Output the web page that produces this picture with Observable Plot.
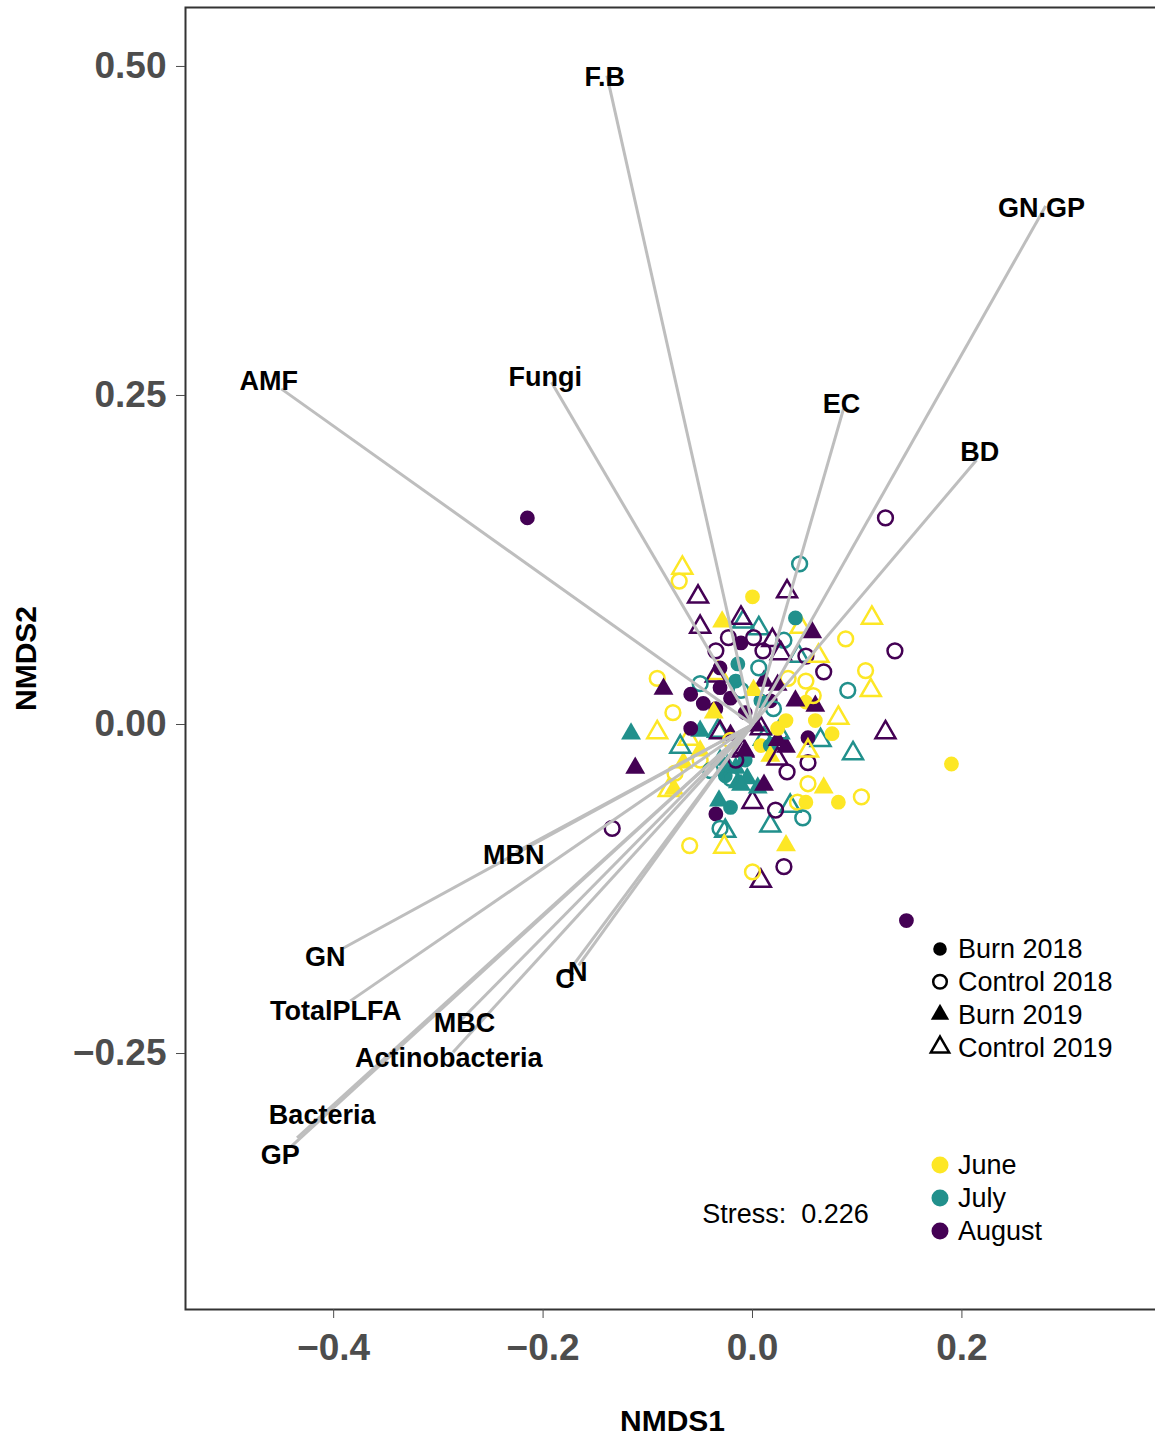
<!DOCTYPE html>
<html>
<head>
<meta charset="utf-8">
<script src="https://cdn.jsdelivr.net/npm/d3@7"></script>
<script src="https://cdn.jsdelivr.net/npm/@observablehq/plot@0.6"></script>
<style>
  html, body { margin: 0; padding: 0; background: #fff; overflow: hidden; }
  #wrap { position: relative; width: 1155px; height: 1437px; overflow: hidden; font-family: "Liberation Sans", Arial, sans-serif; }
  #chart svg { max-width: none !important; display: block; }
  #legend { position: absolute; left: 908px; top: 930px; width: 247px; height: 330px; background: #fff; }
</style>
</head>
<body>
<div id="wrap">
  <div id="chart"></div>
  <div id="legend"></div>
</div>
<script>
// Sampling months and their viridis colours
const months = ["June", "July", "August"];
const monthColors = ["#FDE725", "#21908C", "#440154"];

// Treatment groups (filled = burn, open = control; circle = 2018, triangle = 2019)
const treatments = ["Burn 2018", "Control 2018", "Burn 2019", "Control 2019"];
const treatmentSymbol = ["circle", "circle", "triangle", "triangle"];
const treatmentFilled = [true, false, true, false];

// NMDS site scores per treatment: [NMDS1, NMDS2, month]
const burn2018 = [
  [-0.215, 0.157, "August"], [-0.011, 0.062, "August"], [-0.031, 0.043, "August"], [-0.059, 0.023, "August"],
  [-0.047, 0.016, "August"], [-0.035, 0.012, "August"], [-0.031, 0.028, "August"], [-0.021, 0.020, "August"],
  [-0.059, -0.003, "August"], [-0.035, -0.068, "August"], [0.053, -0.010, "August"], [0.147, -0.149, "August"],
  [-0.007, 0.009, "August"], [0.017, 0.018, "August"],
  [0.000, 0.097, "June"], [0.060, 0.003, "June"], [0.076, -0.007, "June"], [0.051, 0.017, "June"],
  [0.082, -0.059, "June"], [0.051, -0.059, "June"], [0.190, -0.030, "June"], [0.024, -0.003, "June"],
  [0.008, -0.016, "June"], [0.032, 0.003, "June"],
  [0.041, 0.081, "July"], [-0.014, 0.046, "July"], [-0.016, 0.033, "July"], [-0.021, -0.063, "July"],
  [0.008, 0.018, "July"], [-0.007, -0.027, "July"], [-0.026, -0.039, "July"], [0.017, -0.016, "July"]
];
const control2018 = [
  [0.127, 0.157, "August"], [0.136, 0.056, "August"], [-0.134, -0.079, "August"], [0.030, -0.108, "August"],
  [-0.035, 0.056, "August"], [-0.023, 0.066, "August"], [0.010, 0.056, "August"], [0.051, 0.052, "August"],
  [0.068, 0.040, "August"], [0.053, -0.029, "August"], [0.033, -0.036, "August"], [0.022, -0.065, "August"],
  [0.001, 0.066, "August"], [-0.016, -0.027, "August"],
  [-0.070, 0.109, "June"], [-0.091, 0.035, "June"], [-0.076, 0.009, "June"], [-0.060, -0.092, "June"],
  [0.000, -0.112, "June"], [0.089, 0.065, "June"], [0.108, 0.041, "June"], [0.051, 0.033, "June"],
  [0.034, 0.035, "June"], [0.053, -0.045, "June"], [0.104, -0.055, "June"], [0.043, -0.059, "June"],
  [-0.074, -0.037, "June"], [-0.050, -0.027, "June"], [-0.021, -0.012, "June"], [0.058, 0.022, "June"],
  [0.045, 0.122, "July"], [0.091, 0.026, "July"], [0.020, 0.012, "July"], [0.006, 0.043, "July"],
  [-0.050, 0.031, "July"], [-0.031, -0.079, "July"], [0.048, -0.071, "July"], [0.030, 0.064, "July"],
  [-0.021, -0.041, "July"], [-0.040, -0.035, "July"], [-0.011, 0.026, "July"]
];
const burn2019 = [
  [-0.085, 0.027, "August"], [-0.112, -0.033, "August"], [0.057, 0.070, "August"], [0.041, 0.018, "August"],
  [0.060, 0.014, "August"], [0.011, 0.033, "August"], [0.024, 0.030, "August"], [-0.007, -0.020, "August"],
  [0.024, -0.012, "August"], [0.011, -0.046, "August"], [0.032, -0.017, "August"], [-0.021, -0.008, "August"],
  [0.003, -0.001, "August"],
  [-0.029, 0.078, "June"], [-0.037, 0.009, "June"], [0.032, -0.092, "June"], [0.068, -0.048, "June"],
  [0.017, -0.024, "June"], [0.001, 0.026, "June"], [-0.066, -0.029, "June"], [-0.075, -0.049, "June"],
  [-0.050, -0.020, "June"],
  [-0.116, -0.007, "July"], [-0.032, -0.058, "July"], [-0.014, -0.044, "July"], [-0.005, -0.041, "July"],
  [-0.050, -0.005, "July"], [-0.016, -0.033, "July"], [-0.011, -0.046, "July"], [0.005, -0.048, "July"],
  [-0.024, -0.031, "July"], [-0.031, -0.027, "July"]
];
const control2019 = [
  [-0.052, 0.097, "August"], [0.033, 0.101, "August"], [-0.050, 0.074, "August"], [-0.011, 0.081, "August"],
  [0.019, 0.064, "August"], [0.027, 0.054, "August"], [0.127, -0.006, "August"], [-0.031, -0.006, "August"],
  [0.008, -0.003, "August"], [0.024, -0.026, "August"], [-0.009, -0.020, "August"], [0.000, -0.059, "August"],
  [0.008, -0.119, "August"], [-0.035, 0.037, "August"],
  [-0.067, 0.119, "June"], [0.114, 0.081, "June"], [0.046, 0.074, "June"], [0.063, 0.052, "June"],
  [0.113, 0.026, "June"], [0.082, 0.005, "June"], [0.053, -0.020, "June"], [-0.033, 0.039, "June"],
  [-0.091, -0.006, "June"], [-0.027, -0.093, "June"], [-0.061, -0.011, "June"], [-0.080, -0.050, "June"],
  [-0.009, 0.078, "July"], [0.044, 0.052, "July"], [0.096, -0.022, "July"], [0.065, -0.012, "July"],
  [-0.069, -0.017, "July"], [-0.033, -0.005, "July"], [0.011, -0.011, "July"], [0.025, -0.006, "July"],
  [-0.026, -0.081, "July"], [0.017, -0.077, "July"], [0.036, -0.062, "July"], [0.006, 0.073, "July"]
];

// Fitted environmental / PLFA vectors (arrow tips) and their label positions
const vectorNames = ["F.B", "GN.GP", "AMF", "Fungi", "EC", "BD", "MBN", "GN", "TotalPLFA", "MBC",
                     "Actinobacteria", "Bacteria", "GP", "C", "N"];
const vectorX = [-0.139, 0.280, -0.450, -0.192, 0.087, 0.214, -0.226, -0.391, -0.384, -0.279,
                 -0.286, -0.435, -0.441, -0.176, -0.166];
const vectorY = [0.493, 0.394, 0.255, 0.260, 0.240, 0.201, -0.097, -0.170, -0.210, -0.225,
                 -0.249, -0.314, -0.321, -0.188, -0.183];
const labelX = [-0.141, 0.276, -0.462, -0.198, 0.085, 0.217, -0.228, -0.408, -0.398, -0.275,
                -0.290, -0.411, -0.451, -0.179, -0.167];
const labelY = [0.492, 0.392, 0.261, 0.264, 0.243, 0.207, -0.0995, -0.177, -0.218, -0.227,
                -0.254, -0.297, -0.327, -0.194, -0.188];

// Axis ticks and stress annotation
const xTicks = [-0.4, -0.2, 0.0, 0.2];
const yTicks = [-0.25, 0.00, 0.25, 0.50];
const stressValue = 0.226;

// ---- build tables ----
const groups = [burn2018, control2018, burn2019, control2019];
const samples = [];
groups.forEach((g, gi) => g.forEach(([x, y, m]) => samples.push({
  NMDS1: x, NMDS2: y, month: m, treatment: treatments[gi]
})));
// interleave the draw order so that no single month sits entirely on top
samples.sort((a, b) => ((a.NMDS1 * 1000 + a.NMDS2 * 7777) % 3) - ((b.NMDS1 * 1000 + b.NMDS2 * 7777) % 3));

const colorOf = m => monthColors[months.indexOf(m)];
const tIdx = t => treatments.indexOf(t);

const vectors = vectorNames.map((name, i) => ({
  name, x: vectorX[i], y: vectorY[i], lx: labelX[i], ly: labelY[i]
}));

const FONT = '"Liberation Sans", Arial, Helvetica, sans-serif';
const R = 7.4;

// the panel runs past the right edge of the page, so its right border is hidden
const chart = Plot.plot({
  width: 1162,
  height: 1437,
  marginLeft: 185,
  marginRight: 3,
  marginTop: 7,
  marginBottom: 128,
  style: { fontFamily: FONT, background: "#fff", overflow: "visible", maxWidth: "none" },
  x: { domain: [-0.5415, 0.3887] },
  y: { domain: [-0.4445, 0.5448] },
  marks: [
    Plot.dot(samples, {
      x: "NMDS1",
      y: "NMDS2",
      r: R,
      symbol: d => treatmentSymbol[tIdx(d.treatment)],
      fill: d => treatmentFilled[tIdx(d.treatment)] ? colorOf(d.month) : "none",
      stroke: d => treatmentFilled[tIdx(d.treatment)] ? "none" : colorOf(d.month),
      strokeWidth: 2.5
    }),
    Plot.link(vectors, {
      x1: () => 0, y1: () => 0, x2: "x", y2: "y",
      stroke: "#bebebe", strokeWidth: 3
    }),
    Plot.text(vectors, {
      x: "lx", y: "ly", text: "name",
      fontSize: 27, fontWeight: "bold", fill: "#000", textAnchor: "middle"
    }),
    Plot.text([`Stress:  ${stressValue}`], {
      x: () => 0.0315, y: () => -0.3725,
      fontSize: 27, fill: "#000", textAnchor: "middle"
    }),
    Plot.frame({ stroke: "#333", strokeWidth: 2 }),
    Plot.axisX({
      ticks: xTicks, tickFormat: d3.format(".1f"), tickSize: 9, tickPadding: 15,
      fontSize: 37, fontWeight: "bold", color: "#4d4d4d", label: null
    }),
    Plot.axisY({
      ticks: yTicks, tickFormat: d3.format(".2f"), tickSize: 9, tickPadding: 10,
      fontSize: 37, fontWeight: "bold", color: "#4d4d4d", label: null
    }),
    Plot.text(["NMDS1"], {
      frameAnchor: "bottom", dy: 121, fontSize: 30, fontWeight: "bold", fill: "#000", textAnchor: "middle"
    }),
    Plot.text(["NMDS2"], {
      frameAnchor: "left", dx: -159, rotate: -90, fontSize: 30, fontWeight: "bold", fill: "#000", textAnchor: "middle"
    })
  ]
});
document.getElementById("chart").appendChild(chart);

// ---- legends (treatment shapes, then month colours) ----
const leg = d3.select("#legend").append("svg")
  .attr("width", 247).attr("height", 330)
  .style("font-family", FONT);

const symSize = Math.PI * 6.8 * 6.8;
const symGen = { circle: d3.symbolCircle, triangle: d3.symbolTriangle };
treatments.forEach((t, i) => {
  const cy = 19 + i * 32.7;
  const filled = treatmentFilled[i];
  leg.append("path")
    .attr("transform", `translate(32,${cy})`)
    .attr("d", d3.symbol(symGen[treatmentSymbol[i]], symSize)())
    .attr("fill", filled ? "#000" : "none")
    .attr("stroke", filled ? "none" : "#000")
    .attr("stroke-width", 2.5);
  leg.append("text")
    .attr("x", 50).attr("y", cy).attr("dy", "0.35em")
    .attr("font-size", 27).attr("fill", "#000")
    .text(t);
});
months.forEach((m, i) => {
  const cy = 235 + i * 33;
  leg.append("circle")
    .attr("cx", 32).attr("cy", cy).attr("r", 8.5)
    .attr("fill", monthColors[i]);
  leg.append("text")
    .attr("x", 50).attr("y", cy).attr("dy", "0.35em")
    .attr("font-size", 27).attr("fill", "#000")
    .text(m);
});
</script>
</body>
</html>
